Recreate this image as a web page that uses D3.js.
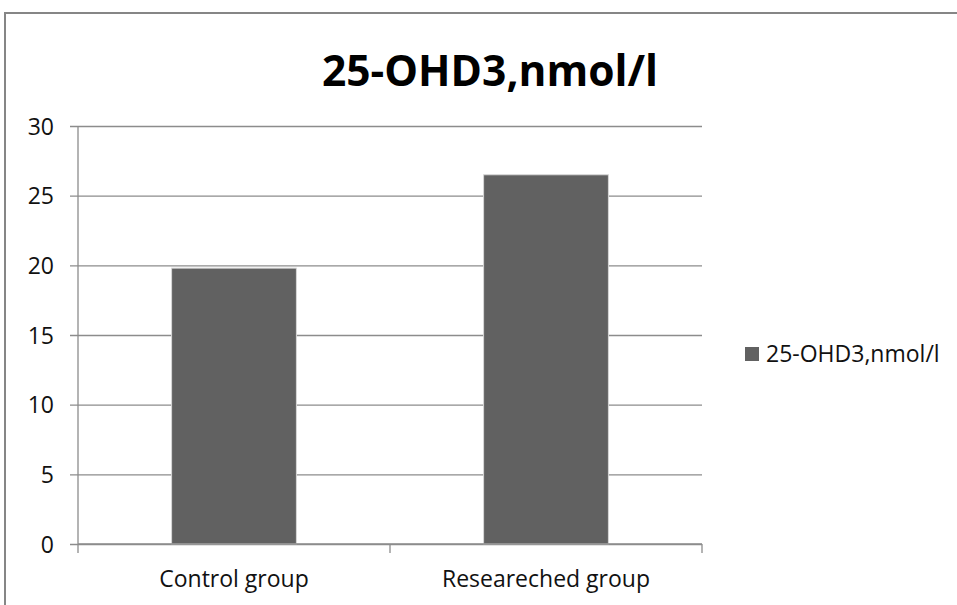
<!DOCTYPE html>
<html>
<head>
<meta charset="utf-8">
<script src="https://cdn.jsdelivr.net/npm/d3@7"></script>
<style>
  body { margin: 0; background: #fff; }
  svg { display: block; font-family: "Open Sans", sans-serif; }
</style>
</head>
<body>
<svg></svg>
<script>
const categories = ["Control group", "Researeched group"];
const values = [19.8, 26.5];
const yTicks = [0, 5, 10, 15, 20, 25, 30];
const seriesName = "25-OHD3,nmol/l";
const title = "25-OHD3,nmol/l";

const width = 957;
const height = 605;
const svg = d3.select("svg").attr("width", width).attr("height", height);

// outer frame (only left and top visible in the crop)
svg.append("path")
  .attr("d", `M5,${height} V13 H${width}`)
  .attr("fill", "none")
  .attr("stroke", "#868686")
  .attr("stroke-width", 2);

const margin = { left: 78, right: 255, top: 126, bottom: 61 };
const graphWidth = width - margin.left - margin.right;
const graphHeight = height - margin.top - margin.bottom;

const g = svg.append("g").attr("transform", `translate(${margin.left},${margin.top})`);

const xScale = d3.scaleBand().domain(categories).range([0, graphWidth]).paddingInner(0.6).paddingOuter(0.3);
const xOuter = d3.scaleBand().domain(categories).range([0, graphWidth]);
const yScale = d3.scaleLinear().domain([0, 30]).range([graphHeight, 0]);

// y axis with gridlines
const yAxis = d3.axisLeft(yScale).tickValues(yTicks).tickSize(-graphWidth - 8).tickPadding(16);
const yAxisG = g.append("g").attr("transform", "translate(-8,0)").call(yAxis);
yAxisG.select(".domain").remove();
yAxisG.selectAll(".tick line").attr("stroke", "#8c8c8c").attr("stroke-width", 1.3);
yAxisG.selectAll(".tick text")
  .attr("font-size", 23)
  .attr("font-family", "'Open Sans', sans-serif")
  .attr("fill", "#111")
  .attr("dy", "0.35em");

g.append("line")
  .attr("x1", 0).attr("x2", 0).attr("y1", 0).attr("y2", graphHeight)
  .attr("stroke", "#8c8c8c").attr("stroke-width", 1.3);

// bars
g.selectAll("rect.bar")
  .data(values)
  .enter()
  .append("rect")
  .attr("class", "bar")
  .attr("x", (d, i) => xScale(categories[i]))
  .attr("y", (d) => yScale(d))
  .attr("width", xScale.bandwidth())
  .attr("height", (d) => graphHeight - yScale(d))
  .attr("fill", "#616161")
  .attr("stroke", "#d8d8d8")
  .attr("stroke-width", 1);

// x axis with category boundary ticks
const xAxisG = g.append("g").attr("transform", `translate(0,${graphHeight})`);
xAxisG.append("line")
  .attr("x1", 0).attr("x2", graphWidth)
  .attr("stroke", "#8c8c8c").attr("stroke-width", 1.3);
const bounds = [0].concat(categories.map((c) => xOuter(c) + xOuter.bandwidth()));
xAxisG.selectAll("line.tick")
  .data(bounds)
  .enter()
  .append("line")
  .attr("class", "tick")
  .attr("x1", (d) => d).attr("x2", (d) => d)
  .attr("y1", 0).attr("y2", 9)
  .attr("stroke", "#8c8c8c").attr("stroke-width", 1.3);
xAxisG.selectAll("text")
  .data(categories)
  .enter()
  .append("text")
  .attr("x", (d) => xOuter(d) + xOuter.bandwidth() / 2)
  .attr("y", 43)
  .attr("text-anchor", "middle")
  .attr("font-size", 23)
  .attr("fill", "#111")
  .text((d) => d);

// title
svg.append("text")
  .attr("x", 490)
  .attr("y", 86)
  .attr("text-anchor", "middle")
  .attr("font-size", 42.5)
  .attr("font-weight", "bold")
  .attr("fill", "#000")
  .text(title);

// legend
const legend = svg.append("g").attr("transform", "translate(745,347)");
legend.append("rect").attr("width", 14).attr("height", 14).attr("fill", "#616161");
legend.append("text")
  .attr("x", 21).attr("y", 7).attr("dy", "0.35em")
  .attr("font-size", 23).attr("fill", "#111")
  .text(seriesName);
</script>
</body>
</html>
